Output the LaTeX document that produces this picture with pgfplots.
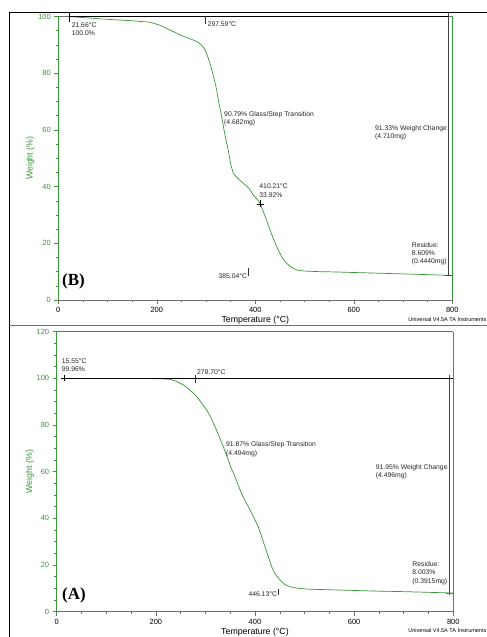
\documentclass[border=0pt]{standalone}
\usepackage{pgfplots}
\pgfplotsset{compat=1.18}
\usepackage{fontspec}
\setmainfont{Liberation Sans}
\newfontfamily\serifbold{Liberation Serif}
\definecolor{tgagreen}{RGB}{58,150,58}
\definecolor{axgray}{RGB}{110,110,110}
\definecolor{vgray}{RGB}{70,70,70}

\pgfplotstableread{
T W
21.66 100.0
60 99.5
100 99.0
150 98.5
186 98.0
205 97.0
227 95.2
250 93.3
274 91.7
285 90.8
294.4 89.3
301 87.0
308 83.5
315 79.0
321.6 74.1
326 69.5
331.8 64.7
338 58.5
345 52.9
350 48.0
355.3 44.7
365 42.8
375.6 41.2
386 39.6
396 37.0
404 35.5
410.21 33.92
420 29.5
430 24.7
438 21.0
446.7 17.6
455 14.8
463.8 12.9
473 11.6
484 10.6
500 10.2
530 10.0
560 9.9
600 9.7
660 9.4
720 9.1
760 8.9
800 8.609
}\curveB

\pgfplotstableread{
T W
15.55 99.96
60 99.96
120 99.95
180 99.9
210 99.85
228.5 99.6
242 98.7
255.4 97.2
270 94.8
282.4 92.2
292 89.5
302.5 86.5
311 83.2
319.3 79.3
328 75.0
336 70.7
346 65.0
352 61.5
359.6 57.9
366 54.3
373 50.7
381 47.2
390 43.6
398 40.2
406.6 36.4
413 32.5
420 27.9
427 23.5
433.6 19.3
441 16.0
450.4 13.6
460 11.7
470.6 10.7
485 10.1
504 9.7
550 9.4
600 9.1
650 8.8
700 8.6
750 8.3
800 8.003
}\curveA

\pgfplotsset{
  tga/.style={
    scale only axis,
    axis lines=box,
    separate axis lines,
    x axis line style={draw=axgray, line width=0.7pt},
    y axis line style={draw=tgagreen, line width=0.7pt},
    xmin=0, xmax=800, xtick={0,200,400,600,800},
    minor x tick num=3, minor y tick num=3,
    tick align=outside, tick pos=left,
    major tick length=4pt, minor tick length=2.5pt,
    xtick style={draw=axgray, line width=0.5pt},
    ytick style={draw=tgagreen, line width=0.5pt},
    /pgf/number format/assume math mode=true,
    /pgf/number format/1000 sep={},
    xticklabel style={font=\fontsize{7.5}{8}\selectfont, text=black},
    yticklabel style={font=\fontsize{7.5}{8}\selectfont, text=tgagreen},
    xlabel={Temperature (°C)},
    ylabel={Weight (\%)},
    xlabel style={font=\fontsize{8.8}{10}\selectfont, text=black, at={(axis description cs:0.5,0)}, anchor=center, yshift=-20.5pt},
    ylabel style={font=\fontsize{8.8}{10}\selectfont, text=tgagreen, anchor=center},
    clip=false,
    axis on top=false,
  },
}
\tikzset{ann/.style={font=\fontsize{6.8}{8.3}\selectfont, inner sep=0pt, align=left, anchor=north west, text=black!85}}

\begin{document}
\begin{tikzpicture}
\path[use as bounding box, clip] (0pt,0pt) rectangle (487pt,637pt);
\fill[white] (0pt,0pt) rectangle (487pt,637pt);
% outer frame
\draw[black, line width=0.8pt] (9pt,0pt) -- (9pt,624.7pt) -- (487pt,624.7pt);
\draw[axgray, line width=1.3pt] (9pt,311.3pt) -- (487pt,311.3pt);
\node[font=\fontsize{5.5}{6.5}\selectfont, anchor=east, inner sep=0pt] at (486.5pt,317pt) {Universal V4.5A TA Instruments};
\node[font=\fontsize{5.5}{6.5}\selectfont, anchor=east, inner sep=0pt] at (486.5pt,6.5pt) {Universal V4.5A TA Instruments};

% ---------------- (B) top panel ----------------
\begin{axis}[tga,
  at={(58.3pt,337pt)}, anchor=south west,
  width=394pt, height=283.5pt,
  ymin=0, ymax=100, ytick={0,20,40,60,80,100},
  ylabel style={at={(axis description cs:-0.071,0.5)}},
]
\addplot[tgagreen, line width=0.7pt] table[x=T,y=W] {\curveB};
\addplot[black, line width=0.6pt] coordinates {(21.66,100) (792,100)};
\addplot[black, line width=0.6pt] coordinates {(21.66,101.2) (21.66,98.2)};
\addplot[black!80, line width=0.5pt] coordinates {(297.59,100) (297.59,97.2)};
\addplot[vgray, line width=0.9pt] coordinates {(792,101.2) (792,8.609)};
\addplot[vgray, line width=0.6pt] coordinates {(786,8.609) (799,8.609)};
\addplot[black!80, line width=0.5pt] coordinates {(385.04,11.3) (385.04,8.6)};
\addplot[black, only marks, mark=+, mark size=3.5pt, mark options={line width=0.6pt}] coordinates {(410.21,33.92)};
\node[ann] at (axis cs:27,97.8) {21.66°C\\100.0\%};
\node[ann] at (axis cs:303,98.2) {297.59°C};
\node[ann] at (axis cs:336.5,66.6) {90.79\% Glass/Step Transition\\(4.682mg)};
\node[ann] at (axis cs:643,61.7) {91.33\% Weight Change\\(4.710mg)};
\node[ann] at (axis cs:408,41.0) {410.21°C\\33.92\%};
\node[ann] at (axis cs:717.5,20.4) {Residue:\\8.609\%\\(0.4440mg)};
\node[ann] at (axis cs:325,9.4) {385.04°C};
\node[font=\serifbold\bfseries\fontsize{17}{17}\selectfont, anchor=west, inner sep=0pt] at (axis cs:7.5,6.5) {(B)};
\end{axis}

% ---------------- (A) bottom panel ----------------
\begin{axis}[tga,
  at={(56.7pt,25.3pt)}, anchor=south west,
  width=396.6pt, height=280pt,
  ymin=0, ymax=120, ytick={0,20,40,60,80,100,120},
  ylabel style={at={(axis description cs:-0.068,0.5)}},
]
\addplot[tgagreen, line width=0.7pt] table[x=T,y=W] {\curveA};
\addplot[black, line width=0.6pt] coordinates {(15.55,99.96) (800,99.96)};
\addplot[black, only marks, mark=+, mark size=3pt, mark options={line width=0.6pt}] coordinates {(15.55,99.96)};
\addplot[black!80, line width=0.5pt] coordinates {(278.70,101.6) (278.70,98.0)};
\addplot[vgray, line width=0.9pt] coordinates {(792,101.4) (792,7.2)};
\addplot[axgray, line width=0.5pt] coordinates {(786,8.003) (799,8.003)};
\addplot[black!80, line width=0.5pt] coordinates {(446.13,9.8) (446.13,7.1)};
\node[ann] at (axis cs:10.1,108.6) {15.55°C\\99.96\%};
\node[ann] at (axis cs:283,103.6) {278.70°C};
\node[ann] at (axis cs:341.5,72.8) {91.87\% Glass/Step Transition\\(4.494mg)};
\node[ann] at (axis cs:643.4,63.1) {91.95\% Weight Change\\(4.496mg)};
\node[ann] at (axis cs:717.2,21.6) {Residue:\\8.003\%\\(0.3915mg)};
\node[ann] at (axis cs:386.5,8.6) {446.13°C};
\node[font=\serifbold\bfseries\fontsize{17}{17}\selectfont, anchor=west, inner sep=0pt] at (axis cs:10.7,6.9) {(A)};
\end{axis}
\end{tikzpicture}
\end{document}
